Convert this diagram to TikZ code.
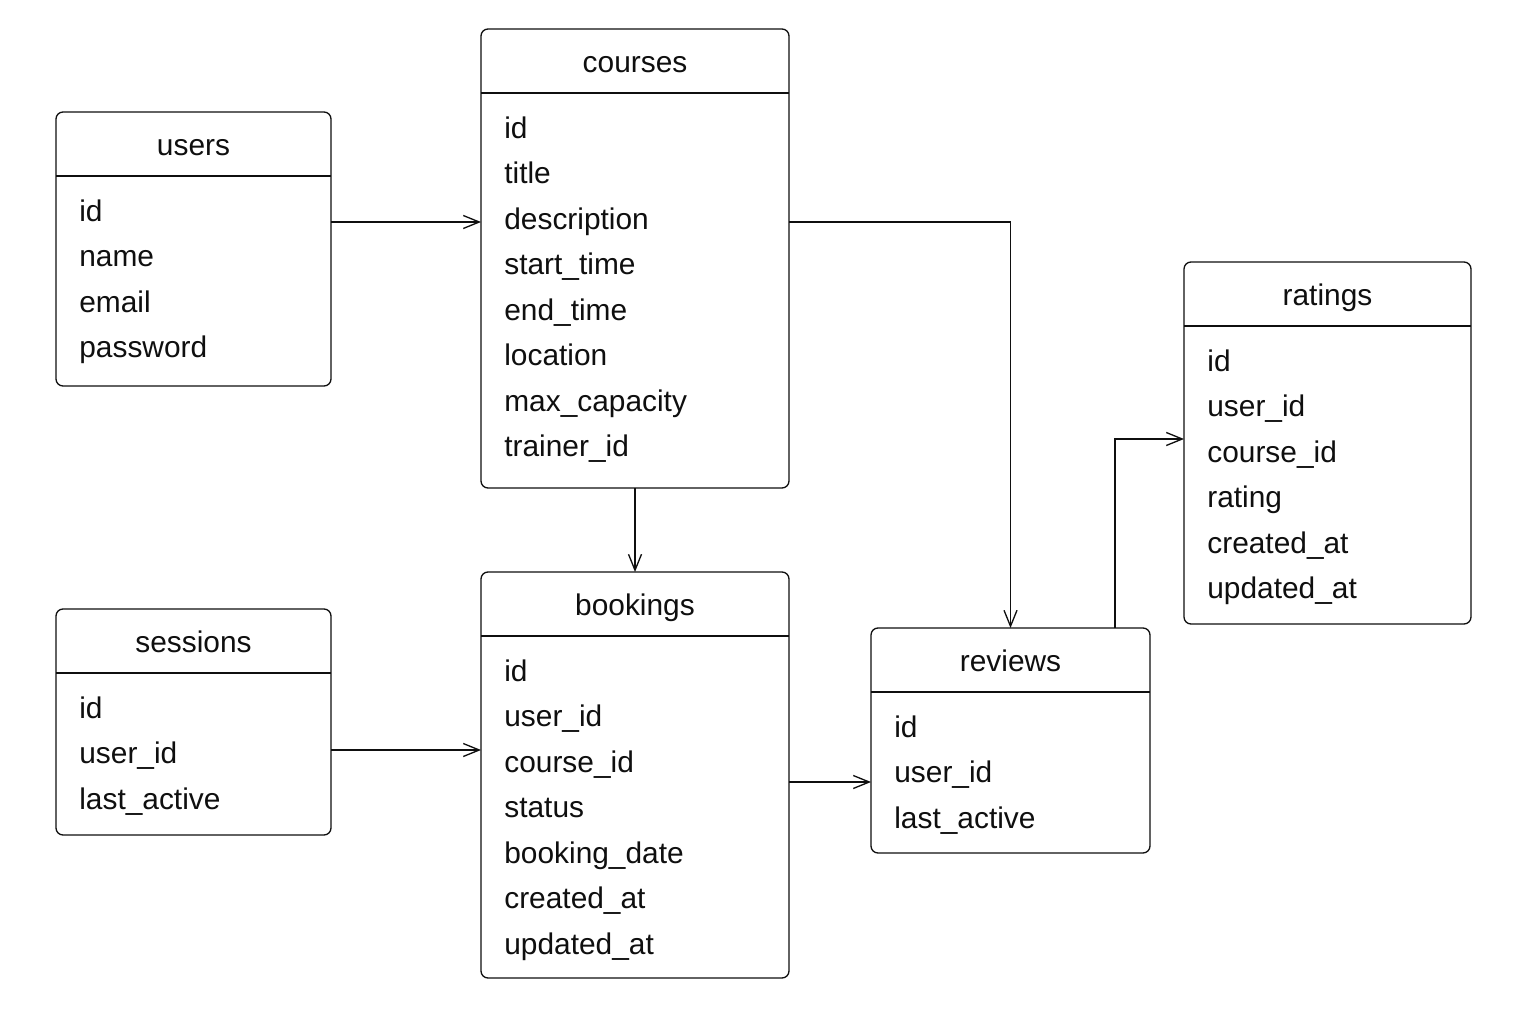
\documentclass[tikz,border=0pt]{standalone}
\usepackage{fontspec}
\setmainfont{Liberation Sans}
\usetikzlibrary{arrows.meta,calc}
\definecolor{LineClr}{RGB}{15,15,15}

% one table: name, top left corner, width, height, title, fields
\newcommand{\erTable}[6]{%
  \node[tbl,minimum width=#3cm,minimum height=#4cm,anchor=north west] (#1) at (#2) {};
  \node[ttl] (#1-title) at ($(#1.north)+(0,-0.78)$) {#5};
  \draw[rule] ($(#1.north west)+(0,-1.28)$) -- ($(#1.north east)+(0,-1.28)$);
  \foreach \f [count=\i] in {#6}
    \node[fld] (#1-\i) at ($(#1.north west)+(0.46,-1.19-0.91*\i)$) {\f};
}

\begin{document}
\begin{tikzpicture}[
  tbl/.style={draw=LineClr,line width=0.75pt,rounded corners=4pt,inner sep=0pt,outer sep=0pt},
  ttl/.style={text=LineClr,font=\fontsize{17}{20}\selectfont,text height=0.75em,text depth=0.25em,inner sep=0pt},
  fld/.style={text=LineClr,font=\fontsize{17}{20}\selectfont,anchor=west,text height=0.75em,text depth=0.25em,inner sep=0pt},
  rule/.style={draw=LineClr,line width=0.75pt},
  link/.style={draw=LineClr,line width=0.75pt,-{Straight Barb[length=3.2mm,width=2.6mm]}}]
\useasboundingbox[fill=white] (0,0) rectangle (30.72,20.48);

% Tables.
\erTable{users}{1.12,18.24}{5.50}{5.48}{users}{id,name,email,password}
\erTable{courses}{9.62,19.90}{6.16}{9.18}{courses}{id,title,description,start\_time,end\_time,location,max\_capacity,trainer\_id}
\erTable{sessions}{1.12,8.30}{5.50}{4.52}{sessions}{id,user\_id,last\_active}
\erTable{bookings}{9.62,9.04}{6.16}{8.12}{bookings}{id,user\_id,course\_id,status,booking\_date,created\_at,updated\_at}
\erTable{reviews}{17.42,7.92}{5.58}{4.50}{reviews}{id,user\_id,last\_active}
\erTable{ratings}{23.68,15.24}{5.74}{7.24}{ratings}{id,user\_id,course\_id,rating,created\_at,updated\_at}

% Relations.
\coordinate (us-out) at ($(users.north east)+(0,-2.20)$);
\coordinate (se-out) at ($(sessions.north east)+(0,-2.82)$);
\coordinate (bk-out) at ($(bookings.east)+(0,-0.14)$);
\coordinate (rv-out) at ($(reviews.north east)+(-0.70,0)$);
\draw[link] (us-out) -- (courses.west |- us-out);
\draw[link] (courses.south) -- (bookings.north);
\draw[link] (courses.east |- us-out) -| (reviews.north);
\draw[link] (se-out) -- (bookings.west |- se-out);
\draw[link] (bk-out) -- (reviews.west |- bk-out);
\draw[link] (rv-out) |- ($(ratings.west)+(0,0.08)$);

\end{tikzpicture}
\end{document}
